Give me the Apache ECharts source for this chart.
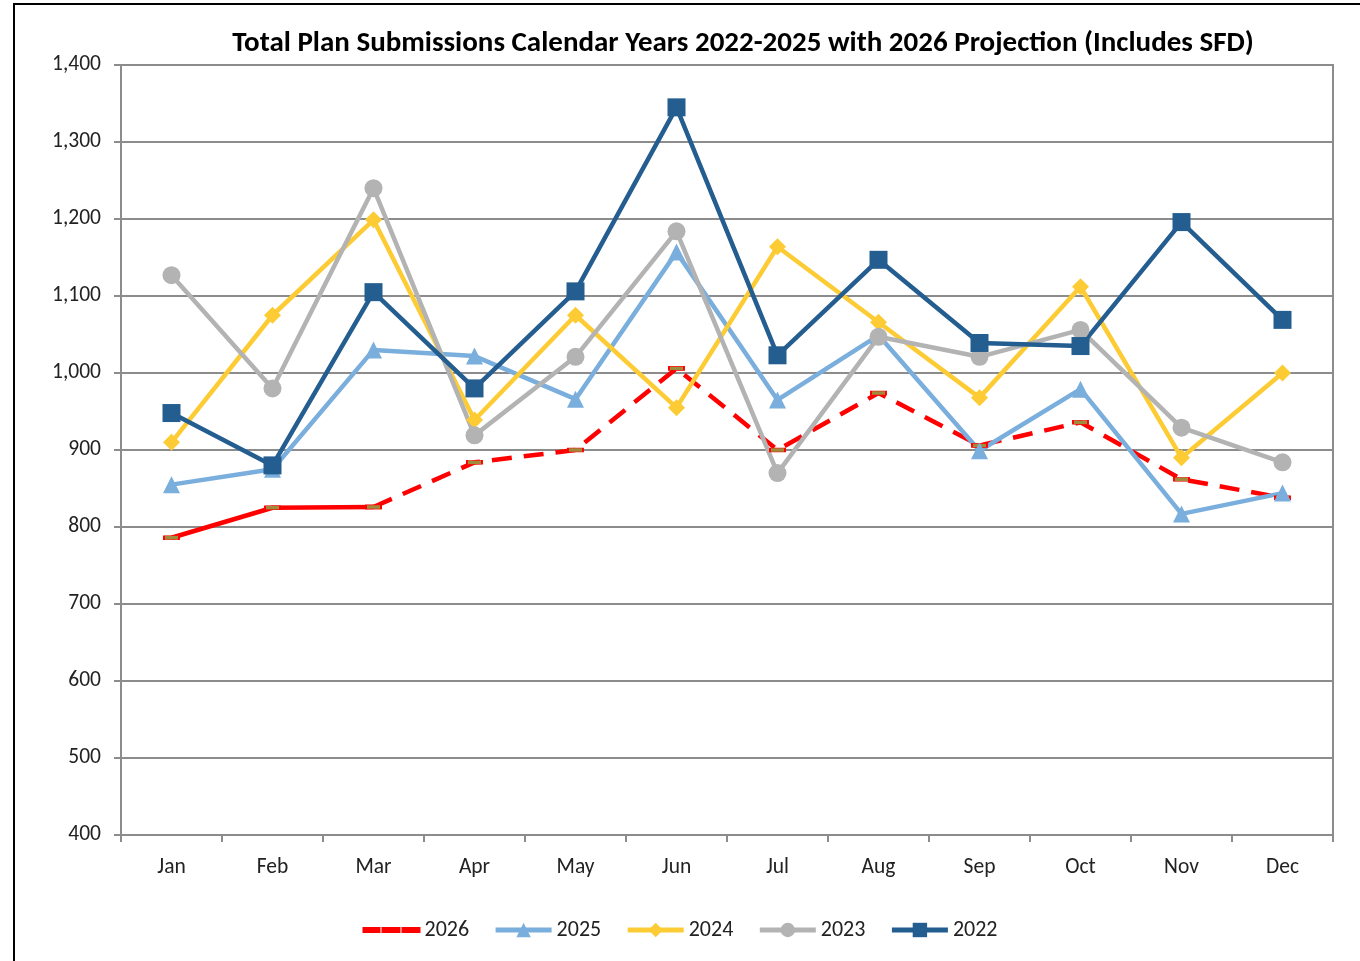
<!DOCTYPE html>
<html>
<head>
<meta charset="utf-8">
<title>Total Plan Submissions</title>
<script src="https://cdn.jsdelivr.net/npm/echarts@6/dist/echarts.min.js"></script>
<style>
  html, body { margin: 0; padding: 0; background: #fff; }
  #chartmain { width: 1360px; height: 961px; }
</style>
</head>
<body>
<div id="chartmain"></div>
<script>
var months = ['Jan', 'Feb', 'Mar', 'Apr', 'May', 'Jun', 'Jul', 'Aug', 'Sep', 'Oct', 'Nov', 'Dec'];
// 2026: Jan-Mar actual (solid), Mar onward projection (dashed)
var y2026Actual = [786, 825, 826, '-', '-', '-', '-', '-', '-', '-', '-', '-'];
var y2026Proj = ['-', '-', 826, 884, 900, 1006, 900, 974, 906, 936, 862, 838];
var y2025 = [855, 875, 1030, 1022, 966, 1157, 965, 1049, 899, 979, 817, 844];
var y2024 = [910, 1075, 1199, 939, 1075, 955, 1164, 1066, 968, 1112, 890, 1000];
var y2023 = [1127, 980, 1240, 919, 1021, 1184, 870, 1047, 1021, 1056, 929, 884];
var y2022 = [948, 880, 1105, 980, 1106, 1345, 1023, 1147, 1039, 1035, 1196, 1069];
var yTicks = { min: 400, max: 1400, step: 100 };

var FONT = "Carlito, 'Liberation Sans Narrow', 'Noto Sans', sans-serif";

document.addEventListener('DOMContentLoaded', function () {
    var chart = echarts.init(document.getElementById('chartmain'));
    initChart(chart);
});

function lineSeries(name, data, color, symbol, size, dashed) {
    return {
        name: name,
        type: 'line',
        data: data,
        symbol: symbol,
        symbolSize: size,
        showSymbol: true,
        connectNulls: false,
        animation: false,
        lineStyle: { color: color, width: 4.5, type: dashed ? [20, 12] : 'solid' },
        itemStyle: { color: color }
    };
}

function initChart(chart) {
    var s2026a = lineSeries('2026 actual', y2026Actual, '#ff0000', 'rect', [15, 4], false);
    s2026a.itemStyle = { color: '#a08a3c', borderColor: '#ff0000', borderWidth: 1 };
    var s2026p = lineSeries('2026', y2026Proj, '#ff0000', 'rect', [15, 4], true);
    s2026p.itemStyle = { color: '#a08a3c', borderColor: '#ff0000', borderWidth: 1 };

    chart.setOption({
        backgroundColor: '#fff',
        textStyle: { fontFamily: FONT },
        graphic: [{
            type: 'rect',
            shape: { x: 14, y: 4, width: 1400, height: 1000 },
            style: { fill: null, stroke: '#000', lineWidth: 2 },
            silent: true
        }],
        title: {
            text: 'Total Plan Submissions Calendar Years 2022-2025 with 2026 Projection (Includes SFD)',
            left: 738,
            textAlign: 'center',
            top: 24,
            textStyle: { fontFamily: FONT, fontSize: 29, fontWeight: 'bold', color: '#000' }
        },
        legend: {
            data: [
                { name: '2026', icon: 'path://M0,7h16v4h-16z M19,7h17v4h-17z M39,7h17v4h-17z', itemStyle: { color: '#ff0000' } },
                '2025', '2024', '2023', '2022'
            ],
            bottom: 15,
            left: 'center',
            itemWidth: 56,
            itemHeight: 18,
            itemGap: 24,
            lineStyle: { width: 5 },
            textStyle: { fontFamily: FONT, fontSize: 22, color: '#222' }
        },
        grid: {
            left: 121, right: 27, top: 65, bottom: 126,
            show: true, borderColor: '#8c8c8c', borderWidth: 2
        },
        xAxis: {
            type: 'category',
            data: months,
            boundaryGap: true,
            axisLine: { lineStyle: { color: '#8c8c8c', width: 2 } },
            axisTick: { show: true, length: 7, lineStyle: { color: '#8c8c8c', width: 2 } },
            axisLabel: { fontFamily: FONT, fontSize: 21.5, color: '#222', margin: 22 },
            splitLine: { show: false }
        },
        yAxis: {
            type: 'value',
            min: yTicks.min,
            max: yTicks.max,
            interval: yTicks.step,
            axisLine: { show: true, lineStyle: { color: '#8c8c8c', width: 2 } },
            axisTick: { show: true, length: 7, lineStyle: { color: '#8c8c8c', width: 2 } },
            axisLabel: {
                fontFamily: FONT, fontSize: 21.5, color: '#222', margin: 20,
                formatter: function (v) { return v.toLocaleString('en-US'); }
            },
            splitLine: { lineStyle: { color: '#8c8c8c', width: 2 } }
        },
        series: [
            s2026a,
            s2026p,
            lineSeries('2025', y2025, '#7aaedc', 'triangle', 17, false),
            lineSeries('2024', y2024, '#fdcb34', 'diamond', 17, false),
            lineSeries('2023', y2023, '#b3b3b3', 'circle', 18, false),
            lineSeries('2022', y2022, '#245d8f', 'rect', 18, false)
        ]
    });
}
</script>
</body>
</html>
